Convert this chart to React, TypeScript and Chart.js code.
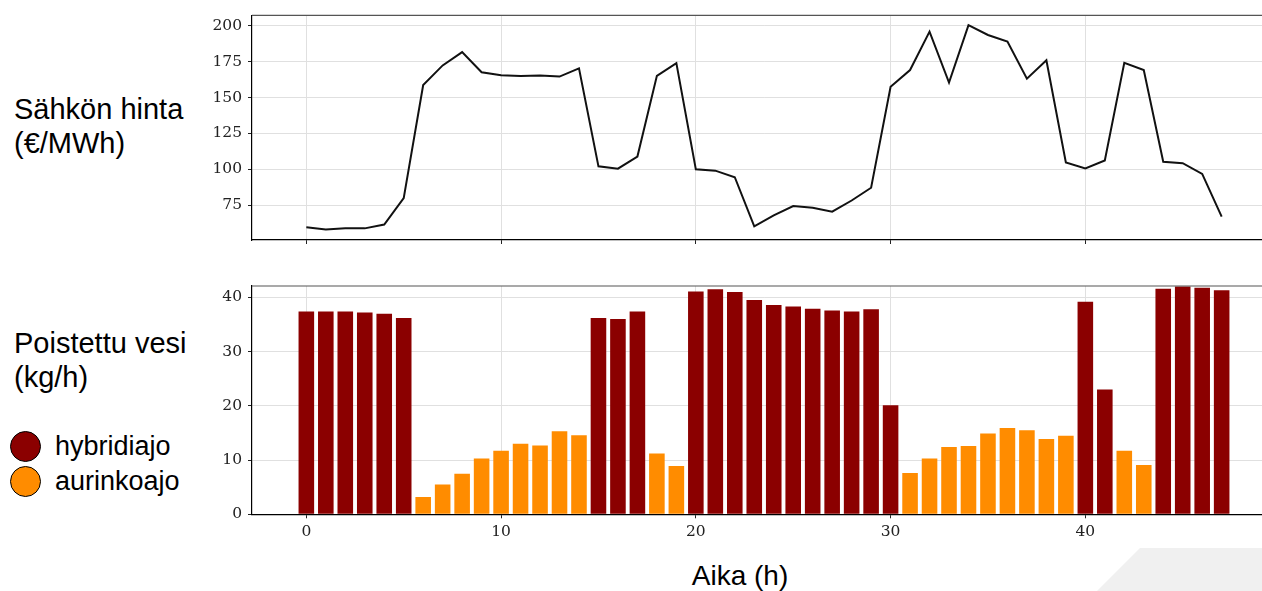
import React, { useEffect, useRef } from "react";
import { Chart, registerables } from "chart.js";

Chart.register(...registerables);

// ---- data ----
const hours = [
  0, 1, 2, 3, 4, 5, 6, 7, 8, 9, 10, 11, 12, 13, 14, 15, 16, 17, 18, 19, 20, 21, 22, 23,
  24, 25, 26, 27, 28, 29, 30, 31, 32, 33, 34, 35, 36, 37, 38, 39, 40, 41, 42, 43, 44, 45, 46, 47,
];

const price = [
  59.6, 58.2, 58.9, 58.9, 61.6, 79.9, 158.7, 172.4, 181.7, 167.6, 165.5, 165.1,
  165.3, 164.6, 170.3, 102.1, 100.5, 108.9, 165.1, 174.0, 100.0, 99.1, 94.5, 60.3,
  68.0, 74.4, 73.3, 70.5, 78.3, 87.2, 157.5, 169.2, 195.9, 160.5, 200.5, 193.6,
  189.0, 163.2, 176.0, 104.8, 100.7, 106.2, 174.2, 169.2, 105.3, 104.3, 96.8, 67.1,
];

const water = [
  37.4, 37.4, 37.4, 37.2, 37.0, 36.2, 3.2, 5.5, 7.5, 10.3, 11.7, 13.0,
  12.7, 15.3, 14.6, 36.2, 36.0, 37.4, 11.2, 8.9, 41.1, 41.5, 41.0, 39.5,
  38.6, 38.3, 37.9, 37.6, 37.4, 37.8, 20.1, 7.6, 10.3, 12.4, 12.6, 14.9,
  15.9, 15.5, 13.9, 14.5, 39.2, 23.0, 11.7, 9.1, 41.6, 42.0, 41.8, 41.3,
];

const mode = [
  "h", "h", "h", "h", "h", "h", "s", "s", "s", "s", "s", "s",
  "s", "s", "s", "h", "h", "h", "s", "s", "h", "h", "h", "h",
  "h", "h", "h", "h", "h", "h", "h", "s", "s", "s", "s", "s",
  "s", "s", "s", "s", "h", "h", "s", "s", "h", "h", "h", "h",
];

const modeKeys = ["h", "s"];
const modeLabels = ["hybridiajo", "aurinkoajo"];
const modeColors = ["#8b0000", "#ff8c00"];

const xTicks = [0, 10, 20, 30, 40];
const priceTicks = [75, 100, 125, 150, 175, 200];
const waterTicks = [0, 10, 20, 30, 40];

const xRange = [-2.79, 49.79];
const priceRange = [50.8, 207.3];
const waterRange = [0, 42.1];

const priceLabel = ["Sähkön hinta", "(€/MWh)"];
const waterLabel = ["Poistettu vesi", "(kg/h)"];
const xTitle = "Aika (h)";

// ---- styling ----
const TICK_FONT = { family: "'DejaVu Serif', serif", size: 15.5 };
const TICK_COLOR = "#222222";
const GRID_COLOR = "#e0e0e0";
const SANS = "'Liberation Sans', Arial, sans-serif";

const topBorder = {
  id: "topBorder",
  afterDraw(chart: any) {
    const { ctx, chartArea } = chart;
    ctx.save();
    ctx.strokeStyle = "#555555";
    ctx.lineWidth = 1.2;
    ctx.beginPath();
    ctx.moveTo(chartArea.left, chartArea.top);
    ctx.lineTo(chartArea.right, chartArea.top);
    ctx.stroke();
    ctx.restore();
  },
};

function xScale(showLabels: boolean, height: number) {
  return {
    type: "linear" as const,
    min: xRange[0],
    max: xRange[1],
    offset: false,
    afterBuildTicks: (s: any) => {
      s.ticks = xTicks.map((v) => ({ value: v }));
    },
    afterFit: (s: any) => {
      s.height = height;
    },
    grid: {
      color: GRID_COLOR,
      tickColor: "#222",
      tickLength: 4,
      offset: false,
      lineWidth: 1,
    },
    border: { color: "#000", width: 1.2 },
    ticks: {
      display: showLabels,
      font: TICK_FONT,
      color: TICK_COLOR,
      padding: 4,
      maxRotation: 0,
      autoSkip: false,
      callback: (v: any) => String(v),
    },
  };
}

function yScale(range: number[], ticks: number[]) {
  return {
    type: "linear" as const,
    min: range[0],
    max: range[1],
    afterBuildTicks: (s: any) => {
      s.ticks = ticks.map((v) => ({ value: v }));
    },
    afterFit: (s: any) => {
      s.width = 60;
    },
    grid: { color: GRID_COLOR, tickColor: "#222", tickLength: 4, lineWidth: 1 },
    border: { color: "#000", width: 1.2 },
    ticks: {
      font: TICK_FONT,
      color: TICK_COLOR,
      padding: 6,
      callback: (v: any) => String(v),
    },
  };
}

function PriceChart() {
  const ref = useRef<HTMLCanvasElement>(null);
  useEffect(() => {
    if (!ref.current) return;
    const chart = new Chart(ref.current, {
      type: "line",
      data: {
        datasets: [
          {
            data: hours.map((h, i) => ({ x: h, y: price[i] })),
            borderColor: "#111111",
            borderWidth: 2,
            pointRadius: 0,
            tension: 0,
            fill: false,
          },
        ],
      },
      options: {
        animation: false,
        responsive: false,
        layout: { padding: { top: 11.7, left: 0, right: 0, bottom: 0 } },
        plugins: { legend: { display: false }, tooltip: { enabled: false } },
        scales: {
          x: xScale(false, 20),
          y: yScale(priceRange, priceTicks),
        },
      },
      plugins: [topBorder],
    });
    return () => chart.destroy();
  }, []);
  return (
    <canvas
      ref={ref}
      width={1084}
      height={260}
      style={{ position: "absolute", left: 192, top: 0, width: 1084, height: 260 }}
    />
  );
}

function WaterChart() {
  const ref = useRef<HTMLCanvasElement>(null);
  useEffect(() => {
    if (!ref.current) return;
    const colors = mode.map((m) => modeColors[modeKeys.indexOf(m)]);
    const chart = new Chart(ref.current, {
      type: "bar",
      data: {
        datasets: [
          {
            data: hours.map((h, i) => ({ x: h, y: water[i] })),
            backgroundColor: colors,
            borderWidth: 0,
            barPercentage: 0.8,
            categoryPercentage: 1,
          },
        ],
      },
      options: {
        animation: false,
        responsive: false,
        layout: { padding: { top: 16, left: 0, right: 0, bottom: 0 } },
        plugins: { legend: { display: false }, tooltip: { enabled: false } },
        scales: {
          x: xScale(true, 29.7),
          y: yScale(waterRange, waterTicks),
        },
      },
      plugins: [topBorder],
    });
    return () => chart.destroy();
  }, []);
  return (
    <canvas
      ref={ref}
      width={1084}
      height={274}
      style={{ position: "absolute", left: 192, top: 270, width: 1084, height: 274 }}
    />
  );
}

const labelStyle = (top: number, size: number): React.CSSProperties => ({
  position: "absolute",
  left: 14,
  top,
  fontFamily: SANS,
  fontSize: size,
  lineHeight: "34px",
  color: "#000",
  whiteSpace: "nowrap",
});

export default function App() {
  return (
    <div
      style={{
        position: "fixed",
        left: 0,
        top: 0,
        width: 1262,
        height: 591,
        overflow: "hidden",
        background: "#fff",
      }}
    >
      <div
        style={{
          position: "absolute",
          left: 0,
          top: 0,
          width: 1262,
          height: 591,
          background: "#f0f0f0",
          clipPath: "polygon(1140px 548px, 1262px 548px, 1262px 591px, 1097px 591px)",
        }}
      />
      <PriceChart />
      <WaterChart />
      <div style={labelStyle(92, 29)}>
        {priceLabel[0]}
        <br />
        {priceLabel[1]}
      </div>
      <div style={labelStyle(326, 29)}>
        {waterLabel[0]}
        <br />
        {waterLabel[1]}
      </div>
      {modeLabels.map((lab, i) => (
        <React.Fragment key={lab}>
          <div
            style={{
              position: "absolute",
              left: 10,
              top: 430.5 + i * 35.5,
              width: 29,
              height: 29,
              borderRadius: "50%",
              background: modeColors[i],
              border: "1.5px solid #000",
            }}
          />
          <div
            style={{
              position: "absolute",
              left: 55,
              top: 429 + i * 34.5,
              fontFamily: SANS,
              fontSize: 27,
              lineHeight: "34px",
              color: "#000",
              whiteSpace: "nowrap",
            }}
          >
            {lab}
          </div>
        </React.Fragment>
      ))}
      <div
        style={{
          position: "absolute",
          left: 640,
          width: 200,
          textAlign: "center",
          top: 560,
          fontFamily: SANS,
          fontSize: 28,
          lineHeight: "32px",
          color: "#000",
          whiteSpace: "nowrap",
        }}
      >
        {xTitle}
      </div>
    </div>
  );
}
